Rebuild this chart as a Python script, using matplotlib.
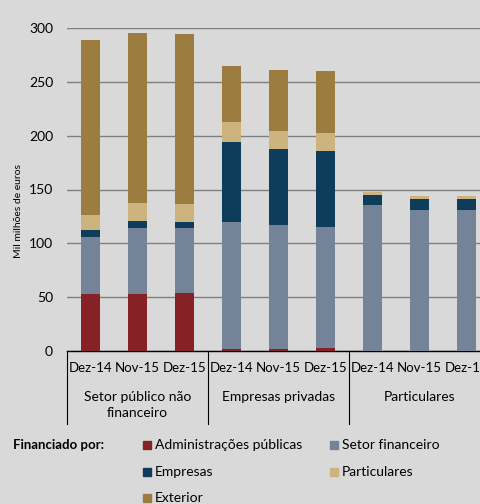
import numpy as np
import matplotlib
matplotlib.use('Agg')
import matplotlib.pyplot as plt
from matplotlib.transforms import blended_transform_factory
from matplotlib.patches import Rectangle

plt.rcParams['font.family'] = ['Lato', 'DejaVu Sans']

# dados (mil milhões de euros)
datas = ['Dez-14', 'Nov-15', 'Dez-15'] * 3
grupos = ['Setor público não\nfinanceiro', 'Empresas privadas', 'Particulares']
series = ['Administrações públicas', 'Setor financeiro', 'Empresas', 'Particulares', 'Exterior']
adm_publicas = [52.5, 53.2, 53.7, 2.0, 2.0, 2.5, 0.0, 0.0, 0.0]
setor_financeiro = [53.1, 61.0, 60.3, 117.6, 115.4, 113.1, 135.4, 131.3, 131.0]
empresas = [6.4, 6.3, 5.6, 74.4, 70.1, 69.8, 9.3, 9.7, 10.0]
particulares = [14.0, 16.7, 17.0, 18.7, 17.2, 17.0, 2.8, 2.8, 2.8]
exterior = [163.0, 158.1, 158.0, 52.3, 56.7, 57.5, 0.5, 0.5, 0.5]

cores = ['#862226', '#758399', '#0e3d5b', '#cdb47f', '#9c7c3f']
bg = '#d9d9d9'

fig = plt.figure(figsize=(4.81, 5.04), dpi=100, facecolor=bg)
ax = fig.add_axes([67 / 481, 153 / 504, 423 / 481, 323 / 504])
ax.set_facecolor(bg)

x = np.arange(len(datas))
base = np.zeros(len(datas))
for vals, cor in zip([adm_publicas, setor_financeiro, empresas, particulares, exterior], cores):
    ax.bar(x, vals, 0.4, bottom=base, color=cor, zorder=3)
    base += np.array(vals)

ax.set_xlim(-0.5, len(datas) - 0.5)
ax.set_ylim(0, 300)
ax.set_yticks(np.arange(0, 301, 50))
ax.yaxis.grid(True, color='#7f7f7f', linewidth=1, zorder=0)
ax.tick_params(axis='y', length=0, pad=10, labelsize=10)
ax.set_xticks([])
for s in ['top', 'right', 'left']:
    ax.spines[s].set_visible(False)
ax.spines['bottom'].set_color('black')
ax.spines['bottom'].set_linewidth(1)
fig.text(18.5 / 481, 1 - 211 / 504, 'Mil milhões de euros', fontsize=7.5,
         rotation=90, ha='center', va='center')

# eixo de categorias em dois níveis
tr = blended_transform_factory(ax.transData, ax.transAxes)
for i, d in enumerate(datas):
    ax.text(i, -0.053, d, transform=tr, ha='center', va='center', fontsize=9.5)
for g, nome in enumerate(grupos):
    ax.text(3 * g + 1, -0.124, nome, transform=tr, ha='center', va='top',
            fontsize=10, linespacing=1.35)
for xs in [-0.5, 2.5, 5.5]:
    ax.plot([xs, xs], [0, -0.226], transform=tr, color='black', lw=0.8, clip_on=False)

# legenda
fig.text(13 / 481, 1 - 445 / 504, 'Financiado por:', fontsize=9.5, fontweight='bold',
         ha='left', va='center')
pos = [(143, 445), (330, 445), (143, 472), (330, 472), (143, 498)]
for nome, cor, (px, py) in zip(series, cores, pos):
    fig.patches.append(Rectangle((px / 481, 1 - (py + 4) / 504), 8 / 481, 8 / 504,
                                 transform=fig.transFigure, color=cor, figure=fig))
    fig.text((px + 12) / 481, 1 - py / 504, nome, fontsize=10, ha='left', va='center')

fig.savefig('out.png', dpi=100, facecolor=bg)
